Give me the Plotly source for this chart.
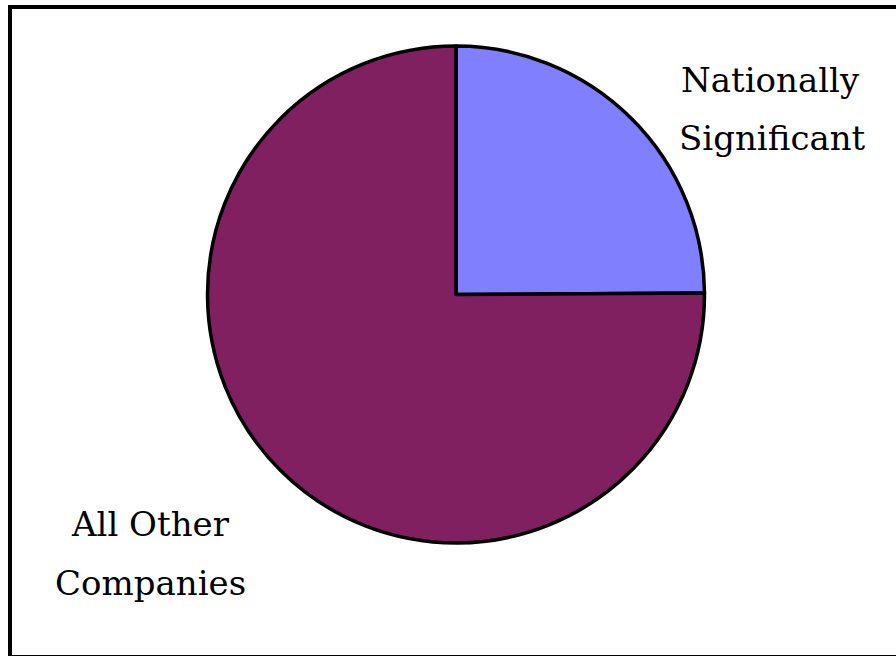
import plotly.graph_objects as go

# Share of companies by category
categories = ["Nationally Significant", "All Other Companies"]
shares = [24.9, 75.1]
colors = ["#8080FF", "#802060"]

W, H = 896, 656

fig = go.Figure(
    go.Pie(
        labels=categories,
        values=shares,
        sort=False,
        direction="clockwise",
        rotation=0,
        textinfo="none",
        hoverinfo="label+percent",
        marker=dict(colors=colors, line=dict(color="black", width=3.5)),
        domain=dict(x=[207.5 / W, 704.5 / W], y=[(H - 546) / H, (H - 43) / H]),
        showlegend=False,
    )
)

font = dict(family="DejaVu Serif", size=34, color="black")


def label(text, x, y):
    fig.add_annotation(
        text=text, x=x / W, y=1 - y / H, xref="paper", yref="paper",
        showarrow=False, font=font, xanchor="center", yanchor="middle",
    )


label("Nationally", 770, 80)
label("Significant", 772, 138)
label("All Other", 150, 524)
label("Companies", 150, 583)

# Outer frame
fig.add_shape(
    type="rect", xref="paper", yref="paper",
    x0=10 / W, x1=1.02, y0=(H - 657) / H, y1=1 - 7 / H,
    line=dict(color="black", width=4), fillcolor="rgba(0,0,0,0)",
)

fig.update_layout(
    width=W, height=H,
    margin=dict(l=0, r=0, t=0, b=0),
    paper_bgcolor="white", plot_bgcolor="white",
)

fig.write_html("out.html")
